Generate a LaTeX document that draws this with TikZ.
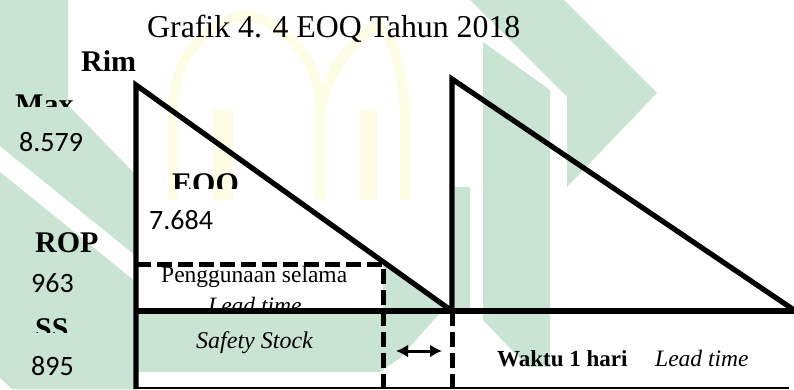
\documentclass[tikz,border=0pt]{standalone}
\usepackage{fontspec}
\setmainfont{Liberation Serif}
\newfontfamily\numfont{Carlito}
\usetikzlibrary{arrows.meta}
\definecolor{wmgreen}{RGB}{202,228,212}
\definecolor{wmyellow}{RGB}{253,253,230}
\tikzset{
  thickline/.style={line width=5.2pt, line join=miter, line cap=butt},
  dashline/.style={line width=5pt, dash pattern=on 15pt off 6pt},
  thinline/.style={line width=1.6pt},
  lbl/.style={font=\fontsize{30}{30}\selectfont\bfseries, anchor=base west, inner sep=0pt},
  num/.style={font=\fontsize{28}{28}\selectfont\numfont, anchor=base west, inner sep=0pt},
  txt/.style={font=\fontsize{23.5}{23.5}\selectfont, anchor=base west, inner sep=0pt},
  wm/.style={fill=wmgreen, draw=none},
  wmy/.style={draw=wmyellow, line width=10pt, fill=none},
  wmyf/.style={fill=wmyellow, draw=none}
}
\begin{document}
\begin{tikzpicture}[x=1pt,y=-1pt]
\useasboundingbox (0,0) rectangle (794,389);
% watermark (approximate)
\fill[wm] (5,0) -- (68,0) -- (68,105) -- (136,175) -- (136,256) -- (0,146) -- (0,0) -- cycle;
\fill[wm] (0,172) -- (136,282) -- (136,389) -- (12,389) -- (0,378) -- cycle;
\fill[wm] (137,313) -- (440,313) -- (400,358) -- (380,372) -- (137,372) -- cycle;
\fill[wm] (383,262) -- (452,311) -- (383,311) -- cycle;
\fill[wm] (455,187) -- (470,187) -- (470,311) -- (455,311) -- cycle;
\fill[wm] (483,42) -- (550,90) -- (550,367) -- (528,367) -- (483,320) -- cycle;
\fill[wm] (470,0) -- (564,0) -- (657,93) -- (567,187) -- (567,97) -- cycle;
\draw[wmy] (173,200) -- (173,110) .. controls (173,50) and (215,20) .. (245,15) .. controls (280,20) and (320,55) .. (320,110) -- (320,200);
\draw[wmy] (320,110) .. controls (330,60) and (365,30) .. (380,25) .. controls (395,40) and (405,80) .. (405,120) -- (405,200);
\fill[wmyf] (213,110) rectangle (233,200);
\fill[wmyf] (360,110) rectangle (377,200);
% coordinates
\coordinate (top1) at (136,85);
\coordinate (axisb) at (136,389);
\coordinate (meet) at (452,311);
\coordinate (left) at (136,311);
\coordinate (right) at (794,311);
\coordinate (top2) at (452,79);
\coordinate (end2) at (794,310);
\coordinate (ropl) at (136,264);
\coordinate (ropr) at (383,264);
\coordinate (ropb) at (383,389);
\coordinate (meetb) at (452,389);
\coordinate (bl) at (136,388);
\coordinate (br) at (789,388);
\coordinate (arl) at (396,351);
\coordinate (arr) at (442,351);
% lines
\draw[dashline] (ropl) -- (ropr) -- (ropb);
\draw[dashline] (meet) -- (meetb);
\draw[thinline] (bl) -- (br);
\draw[thickline] (axisb) -- (top1) -- (meet);
\draw[thickline] (left) -- (right);
\draw[thickline] (meet) -- (top2) -- (end2);
\draw[line width=3pt, {Latex[length=12pt,width=13pt]}-{Latex[length=12pt,width=13pt]}] (arl) -- (arr);
% texts
\node[font=\fontsize{31.8}{31.8}\selectfont, anchor=base west, inner sep=0pt] (title) at (147,37) {Grafik 4. 4 EOQ Tahun 2018};
\node[lbl] (rim) at (81,71) {Rim};
\begin{scope}
\clip (0,80) rectangle (130,106);
\node[lbl] (max) at (15,114) {Max};
\end{scope}
\node[num] (vmax) at (19,151) {8.579};
\begin{scope}
\clip (150,160) rectangle (260,188);
\node[lbl] (eoq) at (172,193) {EOQ};
\end{scope}
\node[num] (veoq) at (149,229) {7.684};
\node[lbl] (rop) at (35,252) {ROP};
\node[num] (vrop) at (31,292) {963};
\begin{scope}
\clip (20,310) rectangle (130,332);
\node[lbl] (ss) at (35,338) {SS};
\end{scope}
\node[num] (vss) at (31,375) {895};
\node[txt] (peng) at (161,282) {Penggunaan selama};
\begin{scope}
\clip (150,290) rectangle (380,309);
\node[txt, font=\fontsize{23.5}{23.5}\selectfont\itshape] (lt1) at (208,313) {Lead time};
\end{scope}
\node[txt, font=\fontsize{24}{24}\selectfont\itshape] (safety) at (196,348) {Safety Stock};
\node[txt, font=\fontsize{23}{23}\selectfont\bfseries] (waktu) at (497,366) {Waktu 1 hari};
\node[txt, font=\fontsize{23.5}{23.5}\selectfont\itshape] (lt2) at (655,366) {Lead time};
\end{tikzpicture}
\end{document}
